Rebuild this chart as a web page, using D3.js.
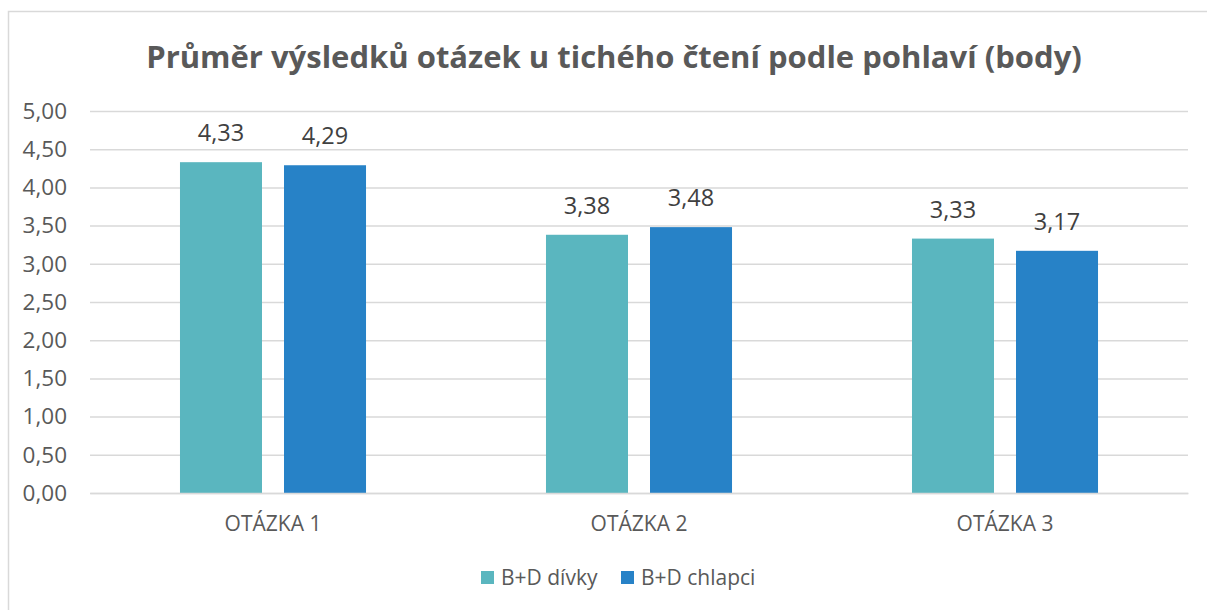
<!DOCTYPE html>
<html>
<head>
<meta charset="utf-8">
<script src="https://cdn.jsdelivr.net/npm/d3@7"></script>
<style>
  body { margin: 0; background: #fff; }
  svg { display: block; font-family: 'Open Sans', sans-serif; }
</style>
</head>
<body>
<div id="chart"></div>
<script>
const categories = ['OTÁZKA 1', 'OTÁZKA 2', 'OTÁZKA 3'];
const seriesNames = ['B+D dívky', 'B+D chlapci'];
const girls = [4.33, 3.38, 3.33];
const boys = [4.29, 3.48, 3.17];
const yTicks = [0, 0.5, 1, 1.5, 2, 2.5, 3, 3.5, 4, 4.5, 5];

const colors = ['#5ab6bf', '#2782c7'];
const width = 1207;
const height = 610;
const plot = { left: 90, right: 1188, top: 111, bottom: 493 };

const fmt = v => d3.format('.2f')(v).replace('.', ',');

const rows = categories.map((c, i) => ({ cat: c, values: [girls[i], boys[i]] }));

const svg = d3.select('#chart')
  .append('svg')
  .attr('width', width)
  .attr('height', height);

// chart frame
svg.append('rect')
  .attr('x', 8.5)
  .attr('y', 11.5)
  .attr('width', 1230)
  .attr('height', 640)
  .attr('fill', '#fff')
  .attr('stroke', '#d9d9d9')
  .attr('stroke-width', 1.5);

svg.append('text')
  .attr('x', 614)
  .attr('y', 68)
  .attr('text-anchor', 'middle')
  .attr('font-size', 31)
  .attr('font-weight', 'bold')
  .attr('fill', '#595959')
  .text('Průměr výsledků otázek u tichého čtení podle pohlaví (body)');

const y = d3.scaleLinear()
  .domain([0, 5])
  .range([plot.bottom, plot.top]);

const x0 = d3.scaleBand()
  .domain(categories)
  .range([plot.left, plot.right]);

const x1 = d3.scaleBand()
  .domain(d3.range(seriesNames.length))
  .range([0, x0.bandwidth()])
  .paddingInner(0.2115)
  .paddingOuter(0.865);

// gridlines + y labels
const yAxis = d3.axisLeft(y)
  .tickValues(yTicks)
  .tickSize(-(plot.right - plot.left))
  .tickPadding(23)
  .tickFormat(fmt);

svg.append('g')
  .attr('transform', `translate(${plot.left},0)`)
  .call(yAxis)
  .call(g => g.select('.domain').remove())
  .call(g => g.selectAll('.tick line').attr('stroke', '#d9d9d9').attr('stroke-width', 1.5))
  .call(g => g.selectAll('.tick text')
    .attr('fill', '#595959')
    .attr('font-size', 22.5)
    .attr('font-family', "'Open Sans', sans-serif"));

// bars
const groups = svg.append('g')
  .selectAll('g')
  .data(rows)
  .join('g')
  .attr('transform', d => `translate(${x0(d.cat)},0)`);

groups.selectAll('rect')
  .data(d => d.values)
  .join('rect')
  .attr('x', (d, i) => x1(i))
  .attr('y', d => y(d))
  .attr('width', x1.bandwidth())
  .attr('height', d => y(0) - y(d))
  .attr('fill', (d, i) => colors[i]);

groups.selectAll('text')
  .data(d => d.values)
  .join('text')
  .attr('x', (d, i) => x1(i) + x1.bandwidth() / 2)
  .attr('y', d => y(d) - 21)
  .attr('text-anchor', 'middle')
  .attr('font-size', 23.5)
  .attr('fill', '#404040')
  .text(fmt);

// x axis
const xAxis = d3.axisBottom(x0).tickSize(0).tickPadding(23);

svg.append('g')
  .attr('transform', `translate(0,${plot.bottom})`)
  .call(xAxis)
  .call(g => g.select('.domain').attr('stroke', '#d9d9d9').attr('stroke-width', 1.5))
  .call(g => g.selectAll('.tick text')
    .attr('fill', '#595959')
    .attr('font-size', 21)
    .attr('font-family', "'Open Sans', sans-serif"));

// legend
const legendX = [481, 621];
const legend = svg.append('g')
  .selectAll('g')
  .data(seriesNames)
  .join('g')
  .attr('transform', (d, i) => `translate(${legendX[i]},571)`);

legend.append('rect')
  .attr('width', 13)
  .attr('height', 13)
  .attr('fill', (d, i) => colors[i]);

legend.append('text')
  .attr('x', 20)
  .attr('y', 14)
  .attr('font-size', 21)
  .attr('fill', '#595959')
  .text(d => d);
</script>
</body>
</html>
